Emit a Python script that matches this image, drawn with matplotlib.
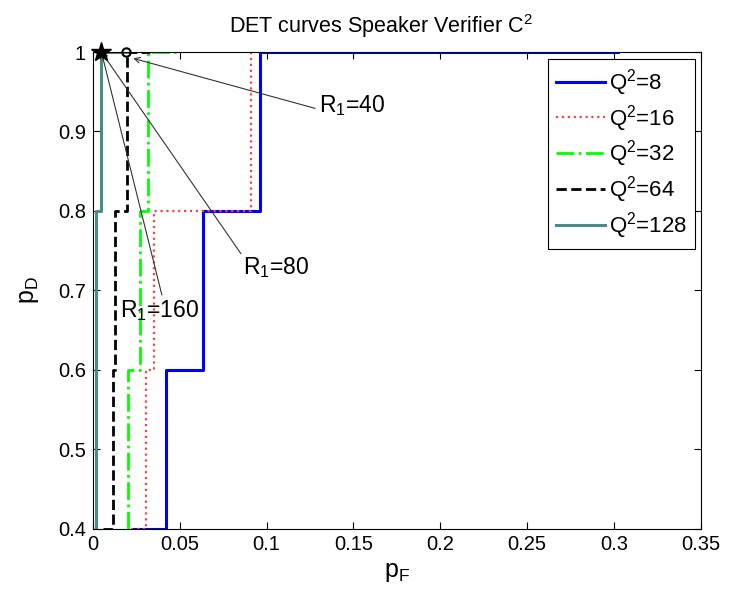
import matplotlib
matplotlib.use('Agg')
import matplotlib.pyplot as plt

# DET curve data (p_F, p_D), one per codebook size
pF_8 = [0.0234, 0.0423, 0.0423, 0.0632, 0.0632, 0.0965, 0.0965, 0.302]
pD_8 = [0.4, 0.4, 0.6, 0.6, 0.8, 0.8, 1.0, 1.0]

pF_16 = [0.022, 0.0306, 0.0306, 0.0354, 0.0354, 0.0908, 0.0908]
pD_16 = [0.4, 0.4, 0.6, 0.6, 0.8, 0.8, 1.0]

pF_32 = [0.0205, 0.0205, 0.0265, 0.0272, 0.0272, 0.032, 0.032, 0.048]
pD_32 = [0.4, 0.6, 0.6, 0.6, 0.8, 0.8, 1.0, 1.0]

pF_64 = [0.006, 0.0118, 0.0118, 0.013, 0.013, 0.0196, 0.0196, 0.033]
pD_64 = [0.4, 0.4, 0.6, 0.6, 0.8, 0.8, 1.0, 1.0]

pF_128 = [0.0017, 0.0017, 0.0048, 0.0048, 0.02]
pD_128 = [0.4, 0.8, 0.8, 1.0, 1.0]

labels = ['Q$^2$=8', 'Q$^2$=16', 'Q$^2$=32', 'Q$^2$=64', 'Q$^2$=128']
xticks = [0, 0.05, 0.1, 0.15, 0.2, 0.25, 0.3, 0.35]
xticklabels = ['0', '0.05', '0.1', '0.15', '0.2', '0.25', '0.3', '0.35']
yticks = [0.4, 0.5, 0.6, 0.7, 0.8, 0.9, 1.0]
yticklabels = ['0.4', '0.5', '0.6', '0.7', '0.8', '0.9', '1']

# operating points marked on the curves
star_pt = (0.005, 1.0)
circle_pt = (0.019, 1.0)

plt.rcParams['font.family'] = ['Liberation Sans', 'DejaVu Sans']
plt.rcParams['mathtext.fontset'] = 'custom'
plt.rcParams['mathtext.rm'] = 'Liberation Sans'
plt.rcParams['mathtext.it'] = 'Liberation Sans'

fig = plt.figure(figsize=(7.33, 5.89), dpi=100)
ax = fig.add_axes([0.1265, 0.1027, 0.8298, 0.809])

ax.plot(pF_8, pD_8, '-', color='#0000ff', lw=2.2, label=labels[0])
ax.plot(pF_16, pD_16, ':', color='#ff4040', lw=1.6, label=labels[1])
ax.plot(pF_32, pD_32, '-.', color='#00ff00', lw=2.0, label=labels[2])
ax.plot(pF_64, pD_64, '--', color='black', lw=2.0, label=labels[3])
ax.plot(pF_128, pD_128, '-', color='#4a8c8c', lw=2.2, label=labels[4])

ax.plot(*star_pt, marker='*', color='black', ms=15, clip_on=False, zorder=5)
ax.plot(*circle_pt, marker='o', mfc='none', mec='black', mew=1.5, ms=6,
        clip_on=False, zorder=5)

# text arrows
arrow = dict(arrowstyle='->', color='#333333', lw=0.8, shrinkA=0, shrinkB=0)
ax.annotate('', xy=(0.0233, 0.992), xytext=(0.128, 0.929), arrowprops=arrow)
ax.text(0.130, 0.933, 'R$_1$=40', fontsize=16.5, va='center', ha='left')
ax.annotate('', xy=star_pt, xytext=(0.0853, 0.746), arrowprops=arrow)
ax.text(0.0867, 0.728, 'R$_1$=80', fontsize=16.5, va='center', ha='left')
ax.annotate('', xy=star_pt, xytext=(0.0398, 0.694), arrowprops=arrow)
ax.text(0.0158, 0.675, 'R$_1$=160', fontsize=16.5, va='center', ha='left')

ax.set_xlim(0, 0.35)
ax.set_ylim(0.4, 1.0)
ax.set_xticks(xticks)
ax.set_xticklabels(xticklabels)
ax.set_yticks(yticks)
ax.set_yticklabels(yticklabels)
ax.tick_params(direction='in', length=5, top=True, right=True,
               labelsize=14.5, width=0.8, pad=5)
for s in ax.spines.values():
    s.set_linewidth(0.8)

ax.set_title('DET curves Speaker Verifier C$^2$', fontsize=15.5, pad=14, x=0.474)
ax.set_xlabel('p$_F$', fontsize=18, labelpad=4)
ax.set_ylabel('p$_D$', fontsize=18, labelpad=12)

leg = ax.legend(loc='upper right', bbox_to_anchor=(0.990, 0.985),
                borderaxespad=0, fontsize=16, fancybox=False, framealpha=1,
                edgecolor='black', handlelength=2.2, handletextpad=0.2,
                labelspacing=0.22, borderpad=0.35)
leg.get_frame().set_linewidth(0.8)

plt.savefig('out.png', dpi=100)
plt.close()
print('saved out.png')
